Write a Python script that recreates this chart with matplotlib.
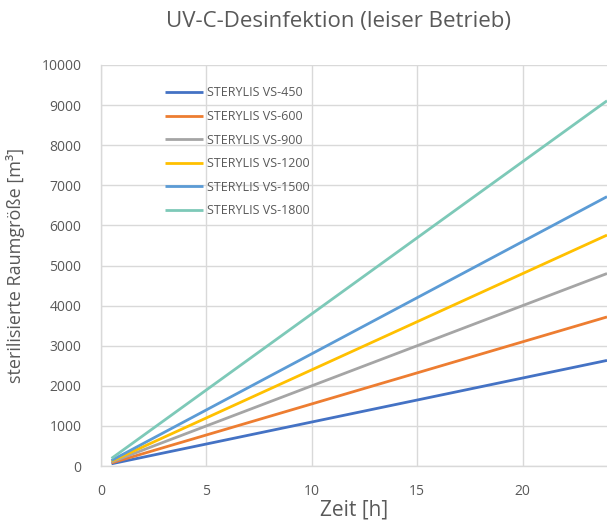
import matplotlib
matplotlib.use('Agg')
import matplotlib.pyplot as plt

plt.rcParams['font.family'] = ['Open Sans', 'DejaVu Sans']

# Daten
stunden = [0.5, 24]
modelle = ['STERYLIS VS-450', 'STERYLIS VS-600', 'STERYLIS VS-900',
           'STERYLIS VS-1200', 'STERYLIS VS-1500', 'STERYLIS VS-1800']
werte = [
    [55, 2633],
    [77, 3717],
    [100, 4800],
    [120, 5758],
    [140, 6717],
    [190, 9108],
]
farben = ['#4472C4', '#ED7D31', '#A5A5A5', '#FFC000', '#5B9BD5', '#7DC9B8']

grau = '#595959'
gitter = '#d9d9d9'

fig = plt.figure(figsize=(6.07, 5.26), dpi=100)
ax = fig.add_axes([101 / 607, 60 / 526, 1 - 101 / 607, (466 - 65) / 526])

for name, y, c in zip(modelle, werte, farben):
    ax.plot(stunden, y, color=c, linewidth=2.0, label=name, solid_capstyle='butt')

ax.set_xlim(0, 24)
ax.set_ylim(0, 10000)
ax.set_xticks([0, 5, 10, 15, 20])
ax.set_yticks(range(0, 10001, 1000))
ax.grid(True, color=gitter, linewidth=1.0)
ax.set_axisbelow(True)
for s in ['top', 'right']:
    ax.spines[s].set_visible(False)
for s in ['left', 'bottom']:
    ax.spines[s].set_color(gitter)
    ax.spines[s].set_linewidth(1.0)
ax.tick_params(length=0, labelsize=10, labelcolor=grau)
ax.tick_params(axis='x', pad=13)
ax.tick_params(axis='y', pad=14)

ax.set_xlabel('Zeit [h]', fontsize=15, color=grau, labelpad=0)
ax.set_ylabel('sterilisierte Raumgröße [m³]', fontsize=13, color=grau, labelpad=12)
fig.text(338 / 607, 1 - 22 / 526, 'UV-C-Desinfektion (leiser Betrieb)',
         fontsize=16, color=grau, ha='center', va='center')

leg = ax.legend(loc='upper left', bbox_to_anchor=(0.105, 0.975), frameon=False,
                fontsize=9, handlelength=3.0, labelspacing=0.85,
                handletextpad=0.3)
for t in leg.get_texts():
    t.set_color(grau)

fig.savefig('out.png', dpi=100)
